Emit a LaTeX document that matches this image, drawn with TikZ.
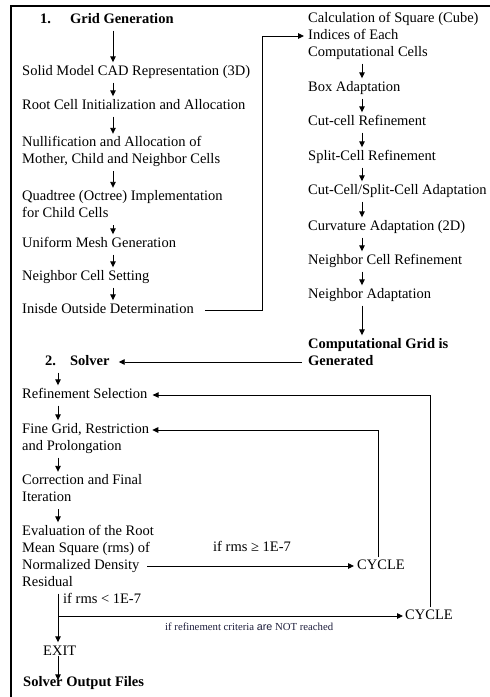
\documentclass[tikz,border=0pt]{standalone}
\usepackage{fontspec}
\setmainfont{Liberation Serif}
\setsansfont{Liberation Sans}
\usetikzlibrary{arrows.meta}
\definecolor{lbl}{RGB}{30,30,60}
\begin{document}
\begin{tikzpicture}[x=1pt,y=-1pt,
  txt/.style={inner sep=0pt, anchor=west, align=left, font=\fontsize{14.5}{17}\selectfont},
  btxt/.style={txt, font=\fontsize{14.5}{17}\selectfont\bfseries},
  arr/.style={draw=black, line width=0.9pt, -{Triangle[length=6pt,width=5.5pt]}},
  vflow/.style={arr, shorten <=2pt, shorten >=1pt},
  frameline/.style={line width=1.1pt}]
\useasboundingbox (0,0) rectangle (490,697);
\draw[frameline] (11,697) -- (11,6) -- (490,6);

\coordinate (ax) at (113,0);
\coordinate (bx) at (362,0);
\coordinate (cx) at (58,0);
\coordinate (loopA) at (378,0);
\coordinate (loopB) at (262,0);
\coordinate (loopC) at (430,0);

% Grid generation, left column
\node[btxt] (gg) at (40,20) {\strut 1.\hspace{19pt}Grid Generation};
\node[txt] (solid) at (22,72) {\strut Solid Model CAD Representation (3D)};
\node[txt] (root) at (22,106) {\strut Root Cell Initialization and Allocation};
\node[txt] (null) at (22,152) {\strut Nullification and Allocation of\\\strut Mother, Child and Neighbor Cells};
\node[txt] (quad) at (22,206) {\strut Quadtree (Octree) Implementation\\\strut for Child Cells};
\node[txt] (uni) at (22,244) {\strut Uniform Mesh Generation};
\node[txt] (nbr) at (22,277) {\strut Neighbor Cell Setting};
\node[txt] (inside) at (22,310) {\strut Inisde Outside Determination};

% right column
\node[txt] (calc) at (308,36) {\strut Calculation of Square (Cube)\\\strut Indices of Each\\\strut Computational Cells};
\node[txt] (box) at (308,88) {\strut Box Adaptation};
\node[txt] (cutc) at (308,122) {\strut Cut-cell Refinement};
\node[txt] (split) at (308,157) {\strut Split-Cell Refinement};
\node[txt] (ccsc) at (308,191) {\strut Cut-Cell/Split-Cell Adaptation};
\node[txt] (curv) at (308,227) {\strut Curvature Adaptation (2D)};
\node[txt] (ncr) at (308,261) {\strut Neighbor Cell Refinement};
\node[txt] (na) at (308,295) {\strut Neighbor Adaptation};
\node[btxt] (cgg) at (308,353.5) {\strut Computational Grid is\\\strut Generated};

% solver
\node[btxt] (solver) at (45,362) {\strut 2.\hspace{14pt}Solver};
\node[txt] (refsel) at (22,395) {\strut Refinement Selection};
\node[txt] (fine) at (22,438.5) {\strut Fine Grid, Restriction\\\strut and Prolongation};
\node[txt] (corr) at (22,490) {\strut Correction and Final\\\strut Iteration};
\node[txt] (eval) at (22,557.5) {\strut Evaluation of the Root\\\strut Mean Square (rms) of\\\strut Normalized Density\\\strut Residual};
\node[txt] (ifge) at (213,548) {\strut if rms ≥ 1E-7};
\node[txt] (cyc1) at (357,566) {\strut CYCLE};
\node[txt] (iflt) at (63,600) {\strut if rms < 1E-7};
\node[txt] (cyc2) at (405,616) {\strut CYCLE};
\node[inner sep=0pt, anchor=west, text=lbl] (crit) at (165,627)
  {\resizebox{168pt}{!}{\fontsize{9}{10}\selectfont if refinement criteria {\sffamily are} NOT reached}};
\node[txt] (exit) at (43,652) {\strut EXIT};
\node[btxt] (sof) at (23,683) {\strut Solver Output Files};

% vertical flow arrows
\draw[vflow] (gg.south -| ax) -- (solid.north -| ax);
\draw[vflow] (solid.south -| ax) -- (root.north -| ax);
\draw[vflow] (root.south -| ax) -- (null.north -| ax);
\draw[vflow] (null.south -| ax) -- (quad.north -| ax);
\draw[vflow] (quad.south -| ax) -- (uni.north -| ax);
\draw[vflow] (uni.south -| ax) -- (nbr.north -| ax);
\draw[vflow] (nbr.south -| ax) -- (inside.north -| ax);

\draw[vflow] (calc.south -| bx) -- (box.north -| bx);
\draw[vflow] (box.south -| bx) -- (cutc.north -| bx);
\draw[vflow] (cutc.south -| bx) -- (split.north -| bx);
\draw[vflow] (split.south -| bx) -- (ccsc.north -| bx);
\draw[vflow] (ccsc.south -| bx) -- (curv.north -| bx);
\draw[vflow] (curv.south -| bx) -- (ncr.north -| bx);
\draw[vflow] (ncr.south -| bx) -- (na.north -| bx);
\draw[vflow] (na.south -| bx) -- (cgg.north -| bx);

\draw[vflow] (solver.south -| cx) -- (refsel.north -| cx);
\draw[vflow] (refsel.south -| cx) -- (fine.north -| cx);
\draw[vflow] (fine.south -| cx) -- (corr.north -| cx);
\draw[vflow] (corr.south -| cx) -- (eval.north -| cx);
\draw[vflow] (eval.south -| cx) -- (exit.north -| cx);
\draw[arr, shorten <=-5pt, shorten >=-6pt] (exit.south -| cx) -- (sof.north -| cx);

% connectors
\draw[arr, shorten >=4pt] ([xshift=11pt]inside.east) -| (loopB |- calc.west) -- (calc.west);
\coordinate (gen) at ([xshift=-6pt,yshift=-8.5pt]cgg.west);
\draw[arr, shorten >=9pt] (gen) -- (gen -| solver.east);
\coordinate (ndE) at (147,566);
\draw[arr, shorten >=3pt] (ndE) -- (cyc1.west);
\draw[arr, shorten >=3pt] (cyc1.north -| loopA) |- ([yshift=8.5pt]fine.east);
\draw[arr, shorten >=5pt] (cyc2.north -| loopC) |- (refsel.east);
\draw[arr, shorten >=2pt] (cx |- cyc2.west) -- (cyc2.west);
\end{tikzpicture}
\end{document}
